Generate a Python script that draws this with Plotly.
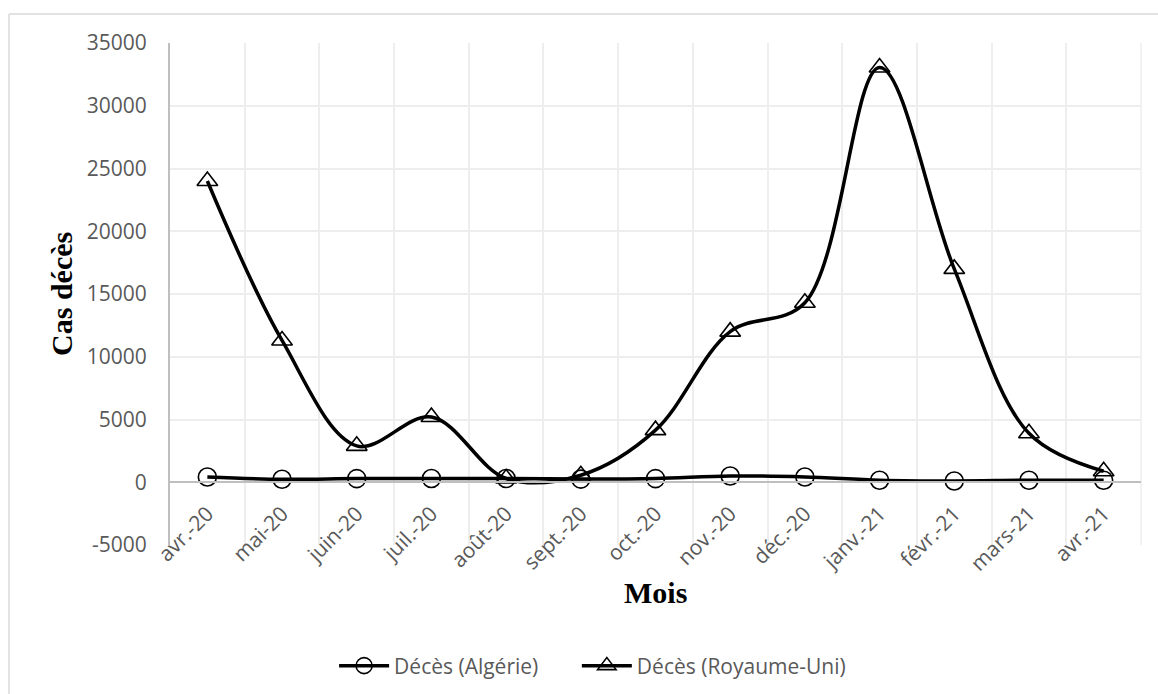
import plotly.graph_objects as go

# Monthly COVID-19 deaths, April 2020 - April 2021
mois = ["avr.-20", "mai-20", "juin-20", "juil.-20", "août-20", "sept.-20", "oct.-20",
        "nov.-20", "déc.-20", "janv.-21", "févr.-21", "mars-21", "avr.-21"]
deces_algerie = [420, 240, 290, 300, 300, 250, 290, 500, 420, 160, 100, 160, 160]
deces_royaume_uni = [24000, 11300, 2900, 5200, 300, 560, 4150, 12000, 14300, 33050, 17000, 3900, 880]
graduations_y = [-5000, 0, 5000, 10000, 15000, 20000, 25000, 30000, 35000]

TICK_FONT = dict(family="Open Sans", size=21, color="#595959")
LEGEND_FONT = dict(family="Open Sans", size=21, color="#595959")
GRID = "#eeeeee"

fig = go.Figure()
fig.add_trace(go.Scatter(
    x=mois, y=deces_algerie, name="Décès (Algérie)",
    mode="lines+markers", legend="legend",
    line=dict(color="black", width=3.5, shape="spline", smoothing=1),
    marker=dict(symbol="circle-open", size=18, color="black", line=dict(width=1.6, color="black")),
))
fig.add_trace(go.Scatter(
    x=mois, y=deces_royaume_uni, name="Décès (Royaume-Uni)",
    mode="lines+markers", legend="legend2",
    line=dict(color="black", width=3.5, shape="spline", smoothing=1),
    marker=dict(symbol="triangle-up-open", size=18, color="black", line=dict(width=1.6, color="black")),
))

legend_common = dict(orientation="h", y=-0.241, yanchor="middle", xanchor="left",
                     font=LEGEND_FONT, itemwidth=50, bgcolor="rgba(0,0,0,0)")

fig.update_layout(
    width=1158, height=694,
    margin=dict(l=170, r=17, t=43, b=149, autoexpand=False),
    paper_bgcolor="white", plot_bgcolor="white",
    showlegend=True,
    legend=dict(x=0.169, **legend_common),
    legend2=dict(x=0.419, **legend_common),
    xaxis=dict(
        type="category", tickson="boundaries", range=[-0.5, 12.5],
        showgrid=True, gridcolor=GRID, gridwidth=1.5,
        showline=True, linecolor="#bfbfbf", linewidth=2,
        anchor="free", position=0.125, automargin=False,
        tickangle=-45, tickfont=TICK_FONT, ticks="", ticklabelstandoff=10,
    ),
    yaxis=dict(
        range=[-5000, 35000], tickmode="array",
        tickvals=graduations_y, ticktext=[str(v) for v in graduations_y],
        showgrid=True, gridcolor=GRID, gridwidth=1.5,
        zeroline=False, automargin=False,
        showline=True, linecolor="#bfbfbf", linewidth=2,
        tickfont=TICK_FONT, ticks="", ticklabelstandoff=17,
    ),
    annotations=[
        dict(text="<b>Cas décès</b>", xref="paper", yref="paper", x=-0.1123, y=0.5,
             xanchor="center", yanchor="middle", textangle=-90, showarrow=False,
             font=dict(family="Liberation Serif", size=30, color="black")),
        dict(text="<b>Mois</b>", xref="paper", yref="paper", x=0.5, y=-0.0956,
             xanchor="center", yanchor="middle", showarrow=False,
             font=dict(family="Liberation Serif", size=30, color="black")),
    ],
    shapes=[
        # right edge of the plot grid
        dict(type="line", xref="paper", yref="paper", x0=1, x1=1, y0=0, y1=1,
             line=dict(color=GRID, width=1.5), layer="below"),
        # chart frame (top and left edges)
        dict(type="line", xref="paper", yref="paper", x0=-0.1658, x1=1.03, y0=1.0578, y1=1.0578,
             line=dict(color="#d9d9d9", width=1.5)),
        dict(type="line", xref="paper", yref="paper", x0=-0.1658, x1=-0.1658, y0=1.0578, y1=-0.31,
             line=dict(color="#d9d9d9", width=1.5)),
    ],
)

fig.write_html("out.html")
